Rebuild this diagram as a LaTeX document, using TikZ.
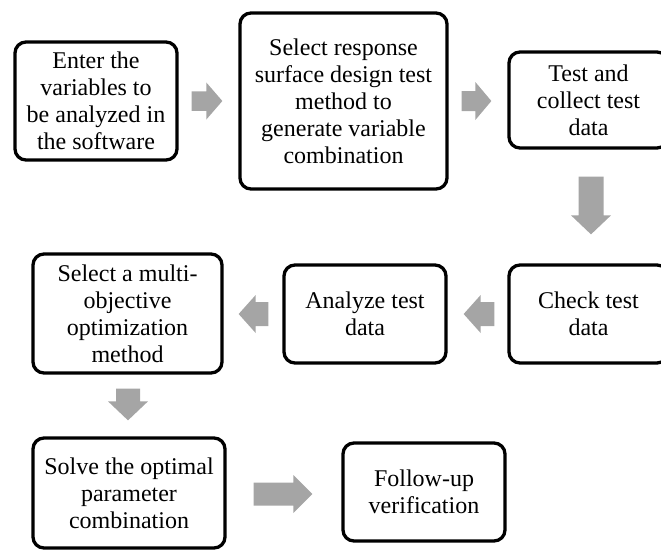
\documentclass[tikz,border=0pt]{standalone}
\usepackage{fontspec}
\setmainfont{Liberation Serif}
\usetikzlibrary{calc}
\definecolor{arrowgray}{RGB}{165,165,165}
% block arrow: start, end, shaft half-width, head half-width, head length
\newcommand{\blockarr}[5]{%
  \coordinate (bs) at (#1);
  \coordinate (be) at (#2);
  \coordinate (bh) at ($(be)!#5!(bs)$);
  \fill[arrowgray] ($(bs)!#3!90:(be)$) -- ($(bh)!#3!90:(be)$) -- ($(bh)!#4!90:(be)$) -- (be)
     -- ($(bh)!#4!-90:(be)$) -- ($(bh)!#3!-90:(be)$) -- ($(bs)!#3!-90:(be)$) -- cycle;}
\begin{document}
\begin{tikzpicture}[x=1pt,y=-1pt,
  box/.style={draw=black, line width=3.3pt, rounded corners=11pt, fill=white,
    align=center, inner sep=0pt, font=\fontsize{24}{27}\selectfont}]
\useasboundingbox (0,0) rectangle (661,550);
\clip (0,0) rectangle (661,550);
\node[box, minimum width=162pt, minimum height=118pt] (b1) at (96,101)
  {Enter the\\variables to\\be analyzed in\\the software};
\node[box, minimum width=207pt, minimum height=176pt] (b2) at (343.5,101)
  {Select response\\surface design test\\method to\\generate variable\\combination};
\node[box, minimum width=159pt, minimum height=96pt] (b3) at (588.5,100)
  {Test and\\collect test\\data};
\node[box, minimum width=159pt, minimum height=98pt] (b4) at (588.5,314)
  {Check test\\data};
\node[box, minimum width=162pt, minimum height=98pt] (b5) at (365,314)
  {Analyze test\\data};
\node[box, minimum width=189pt, minimum height=119pt] (b6) at (127.5,313.5)
  {Select a multi-\\objective\\optimization\\method};
\node[box, minimum width=192pt, minimum height=110pt] (b7) at (129,493)
  {Solve the optimal\\parameter\\combination};
\node[box, minimum width=162pt, minimum height=98pt] (b8) at (424,492)
  {Follow-up\\verification};
\blockarr{$(b1.east)+(13,0)$}{$(b2.west)+(-16,0)$}{9.75pt}{18.5pt}{16pt}
\blockarr{$(b2.east)+(13,0)$}{$(b2.east -| b3.west)+(-16,0)$}{10pt}{19pt}{16pt}
\blockarr{$(b3.south)+(2.5,27)$}{$(b4.north)+(2.5,-29)$}{12.5pt}{20pt}{19pt}
\blockarr{$(b4.west)+(-13,0)$}{$(b5.east)+(16,0)$}{12pt}{19pt}{17pt}
\blockarr{$(b5.west)+(-14,0)$}{$(b5.west -| b6.east)+(15,0)$}{12pt}{19pt}{17pt}
\blockarr{$(b6.south)+(0.5,14)$}{$(b6.south |- b7.north)+(0.5,-16)$}{12pt}{20pt}{19pt}
\blockarr{$(b7.east)+(27,1)$}{$(b7.east -| b8.west)+(-29,1)$}{11.5pt}{19pt}{19pt}
\end{tikzpicture}
\end{document}
